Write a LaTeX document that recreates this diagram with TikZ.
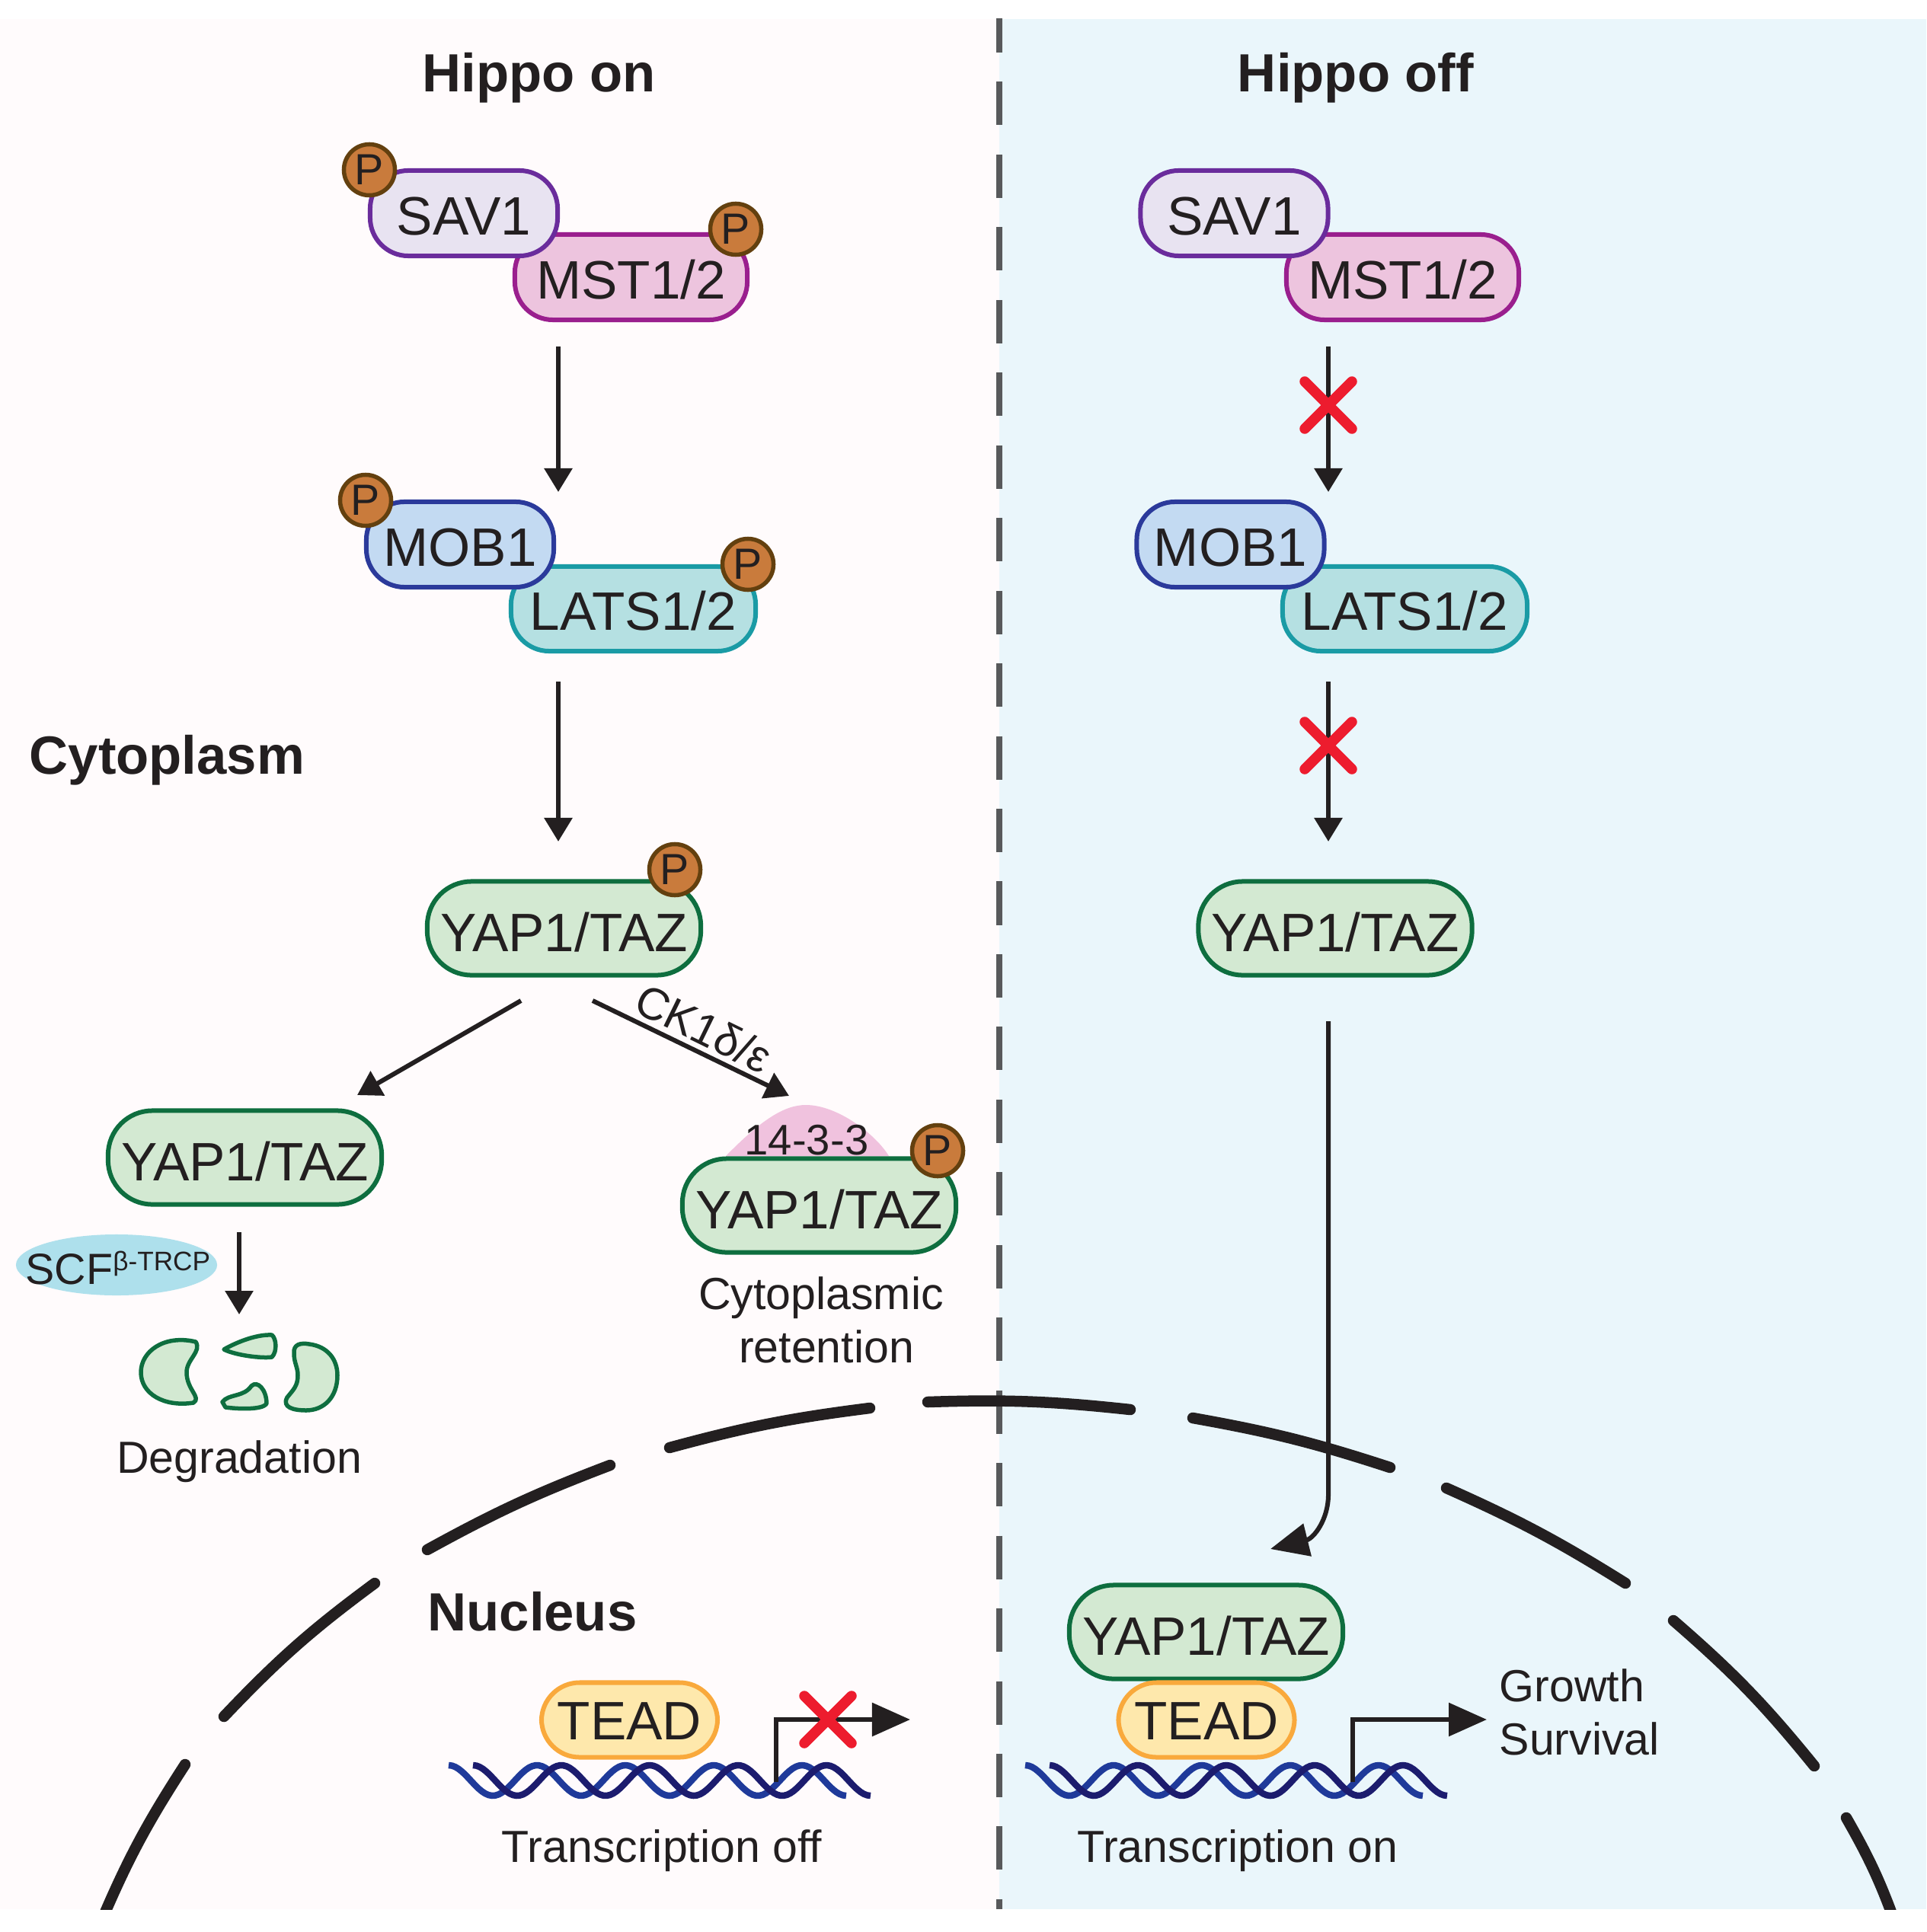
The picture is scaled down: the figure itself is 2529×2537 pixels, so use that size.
\documentclass[tikz,border=0pt]{standalone}
\usepackage{fontspec}
\setmainfont{Liberation Sans}
\usetikzlibrary{arrows.meta,calc,shapes.geometric}
\definecolor{txt}{HTML}{231F20}
\definecolor{pinkbg}{HTML}{FFFBFC}
\definecolor{bluebg}{HTML}{EAF6FB}
\definecolor{dashc}{HTML}{58595B}
\definecolor{savf}{HTML}{E8E3F1}\definecolor{savd}{HTML}{6A2C9C}
\definecolor{mstf}{HTML}{EDC4DE}\definecolor{mstd}{HTML}{9A1F8E}
\definecolor{mobf}{HTML}{C3DAF2}\definecolor{mobd}{HTML}{2B3A9B}
\definecolor{latf}{HTML}{B5E0E2}\definecolor{latd}{HTML}{1A9BA5}
\definecolor{yapf}{HTML}{D3E9D2}\definecolor{yapd}{HTML}{0E6E3F}
\definecolor{teaf}{HTML}{FEE8AC}\definecolor{tead}{HTML}{F9A93C}
\definecolor{pf}{HTML}{C97B3C}\definecolor{pd}{HTML}{63400F}
\definecolor{scff}{HTML}{AEE0EC}
\definecolor{bump}{HTML}{F0C2DE}
\definecolor{redx}{HTML}{ED1C2E}
\definecolor{dna1}{HTML}{1F3A9A}
\definecolor{dna2}{HTML}{1C1C6E}
\tikzset{
 pbox/.style={draw,line width=.06cm,rounded corners=.5cm,inner sep=0pt,outer sep=0pt,text=txt,
   font=\fontsize{20.2}{24}\selectfont,text height=16.2pt,text depth=0pt},
 savbox/.style={pbox,fill=savf,draw=savd,minimum width=2.46cm,minimum height=1.12cm},
 mstbox/.style={pbox,fill=mstf,draw=mstd,minimum width=3.05cm,minimum height=1.12cm},
 mobbox/.style={pbox,fill=mobf,draw=mobd,minimum width=2.46cm,minimum height=1.12cm},
 latbox/.style={pbox,fill=latf,draw=latd,minimum width=3.21cm,minimum height=1.11cm},
 yapbox/.style={pbox,fill=yapf,draw=yapd,minimum width=3.59cm,minimum height=1.23cm,rounded corners=.58cm,text height=17.5pt},
 teabox/.style={pbox,fill=teaf,draw=tead,minimum width=2.31cm,minimum height=.98cm,text height=15pt},
 pcirc/.style={circle,draw=pd,fill=pf,line width=.055cm,minimum size=.67cm,inner sep=0pt,text=txt,
   font=\fontsize{16.3}{18}\selectfont},
 lab/.style={anchor=base,inner sep=0pt,text=txt,font=\fontsize{16.8}{20}\selectfont},
 head/.style={anchor=base,inner sep=0pt,text=txt,font=\bfseries\fontsize{20.1}{24}\selectfont},
 arr/.style={line width=.06cm,draw=txt,-{Triangle[length=.31cm,width=.36cm]}},
 tss/.style={line width=.06cm,draw=txt,-{Triangle[length=.50cm,width=.43cm]}},
 xmark/.style={line width=.135cm,draw=redx,line cap=round},
 env/.style={line width=.145cm,draw=txt,line cap=round},
 frag/.style={fill=yapf,draw=yapd,line width=.055cm,line join=round},
 s1/.style={line width=.085cm,draw=dna1},
 s2/.style={line width=.085cm,draw=dna2},
}
\begin{document}
\begin{tikzpicture}[x=0.01cm,y=-0.01cm]
\useasboundingbox (0,0) rectangle (2529,2537);
% panels
\fill[pinkbg] (0,25) rectangle (1312,2507);
\fill[bluebg] (1312,25) rectangle (2529,2507);
\begin{scope}
\clip (0,25) rectangle (2529,2507);
\coordinate (d0) at (1312,12);
\coordinate (d1) at (1312,2507);
\draw[dashc,line width=.075cm,dash pattern=on .57cm off .384cm] (d0) -- (d1);
% nuclear envelope
\coordinate (e1a) at (130,2530);\coordinate (e1b) at (243,2317);
\coordinate (e2a) at (294,2254);\coordinate (e2b) at (492,2079);
\coordinate (e3a) at (561,2035);\coordinate (e3b) at (801,1924);
\coordinate (e4a) at (879,1901);\coordinate (e4b) at (1142,1849);
\coordinate (e5a) at (1218,1841);\coordinate (e5b) at (1484,1851);
\coordinate (e6a) at (1566,1862);\coordinate (e6b) at (1825,1927);
\coordinate (e7a) at (1899,1954);\coordinate (e7b) at (2134,2079);
\coordinate (e8a) at (2197,2128);\coordinate (e8b) at (2382,2319);
\coordinate (e9a) at (2424,2387);\coordinate (e9b) at (2490,2530);
\draw[env] (e1a) to[bend left=5] (e1b);
\draw[env] (e2a) to[bend left=5] (e2b);
\draw[env] (e3a) to[bend left=4] (e3b);
\draw[env] (e4a) to[bend left=4] (e4b);
\draw[env] (e5a) to[bend left=4] (e5b);
\draw[env] (e6a) to[bend left=4] (e6b);
\draw[env] (e7a) to[bend left=4] (e7b);
\draw[env] (e8a) to[bend left=5] (e8b);
\draw[env] (e9a) to[bend left=5] (e9b);
\end{scope}
% headers
\node[head] (hon) at (708,121) {Hippo on};
\node[head] (hoff) at (1780,121) {Hippo off};
\node[head,anchor=base west] (cyto) at (38,1016) {Cytoplasm};
\node[head] (nuc) at (699,2141) {Nucleus};
% left column
\node[mstbox] (mst) at (828.5,364) {MST1/2};
\node[savbox] (sav) at (609,280) {SAV1};
\node[pcirc] (p1) at (485,223) {P};
\node[pcirc] (p2) at (966,301) {P};
\node[latbox] (lat) at (831.5,799.5) {LATS1/2};
\node[mobbox] (mob) at (604,715) {MOB1};
\node[pcirc] (p3) at (480,657) {P};
\node[pcirc] (p4) at (982,741) {P};
\node[yapbox] (yap) at (740.5,1219) {YAP1/TAZ};
\node[pcirc] (p5) at (886,1142) {P};
\node[yapbox] (yapl) at (321.5,1520) {YAP1/TAZ};
\fill[bump] (953,1518) .. controls (1000,1470) and (1030,1451) .. (1058,1451)
   .. controls (1100,1451) and (1150,1490) .. (1167,1518) -- cycle;
\node[lab,font=\fontsize{16}{20}\selectfont] (b143) at (1059,1516) {14-3-3};
\node[yapbox] (yapr) at (1075.5,1583) {YAP1/TAZ};
\node[pcirc] (p6) at (1231,1511) {P};
% arrows left
\coordinate (a1s) at (733,455);\coordinate (a1e) at (733,646);
\coordinate (a2s) at (733,895);\coordinate (a2e) at (733,1105);
\coordinate (a3s) at (684,1314);\coordinate (a3e) at (469,1438);
\coordinate (a4s) at (778,1314);\coordinate (a4e) at (1036,1439);
\coordinate (a5s) at (314,1618);\coordinate (a5e) at (314,1726);
\draw[arr] (a1s) -- (a1e);
\draw[arr] (a2s) -- (a2e);
\draw[arr] (a3s) -- (a3e);
\draw[arr] (a4s) -- (a4e);
\draw[arr] (a5s) -- (a5e);
\node[lab,anchor=center,rotate=-26] (ck) at (924,1350) {CK1δ/ε};
% SCF
\node[ellipse,fill=scff,minimum width=2.64cm,minimum height=.80cm,inner sep=0pt] (scf) at (153,1661) {};
\node[anchor=base west,inner sep=0pt,text=txt,font=\fontsize{16.3}{20}\selectfont] (scft) at (33,1686)
   {SCF\raisebox{5pt}{\fontsize{10}{10}\selectfont β-TRCP}};
% fragments
\draw[frag] (257,1762) .. controls (215,1752) and (185,1775) .. (185,1802)
  .. controls (185,1830) and (215,1848) .. (254,1842)
  .. controls (265,1835) and (245,1825) .. (245,1802)
  .. controls (245,1785) and (265,1775) .. cycle;
\draw[frag] (386,1777) .. controls (385,1765) and (395,1763) .. (406,1765)
  .. controls (430,1768) and (443,1785) .. (443,1806)
  .. controls (443,1835) and (425,1852) .. (402,1852)
  .. controls (385,1852) and (370,1848) .. (377,1835)
  .. controls (385,1825) and (391,1820) .. (391,1806)
  .. controls (391,1795) and (386,1790) .. cycle;
\draw[frag] (294,1772) .. controls (315,1760) and (340,1752) .. (357,1753)
  .. controls (363,1758) and (364,1775) .. (357,1782)
  .. controls (345,1784) and (310,1780) .. cycle;
\draw[frag] (292,1841) .. controls (300,1830) and (320,1835) .. (330,1820)
  .. controls (338,1812) and (350,1825) .. (350,1843)
  .. controls (345,1852) and (310,1850) .. (296,1848) -- cycle;
\node[lab] (deg) at (314,1934) {Degradation};
\node[lab] (cr1) at (1078,1719) {Cytoplasmic};
\node[lab] (cr2) at (1085,1789) {retention};
% left nucleus
\draw[s1] plot[domain=0:4.5,samples=120] ({589+116*\x},{2338-20*cos(360*\x)});
\draw[s2] plot[domain=0:4.5,samples=120] ({621+116*\x},{2338-20*cos(360*\x)});
\node[teabox] (teal) at (826.5,2258.5) {TEAD};
\coordinate (t1s) at (1019,2340);\coordinate (t1c) at (1019,2258);\coordinate (t1e) at (1195,2258);
\draw[tss] (t1s) -- (t1c) -- (t1e);
\coordinate (x3) at (1087,2258);
\draw[xmark] ($(x3)+(-31,-31)$) -- ($(x3)+(31,31)$);
\draw[xmark] ($(x3)+(-31,31)$) -- ($(x3)+(31,-31)$);
\node[lab] (toff) at (869,2445) {Transcription off};
% right column
\node[mstbox] (mst2) at (1841.5,364) {MST1/2};
\node[savbox] (sav2) at (1620.5,280) {SAV1};
\node[latbox] (lat2) at (1844.5,799.5) {LATS1/2};
\node[mobbox] (mob2) at (1615.5,715) {MOB1};
\node[yapbox] (yap2) at (1753,1219) {YAP1/TAZ};
\coordinate (b1s) at (1744,455);\coordinate (b1e) at (1744,646);
\coordinate (b2s) at (1744,895);\coordinate (b2e) at (1744,1105);
\coordinate (b3s) at (1744,1341);\coordinate (b3m) at (1744,1963);\coordinate (b3e) at (1668,2034);
\draw[tss] (b3s) -- (b3m) .. controls (1744,1995) and (1725,2020) .. (b3e);
\draw[arr] (b1s) -- (b1e);
\draw[arr] (b2s) -- (b2e);
\coordinate (x1) at (1744,532);\coordinate (x2) at (1744,979);
\draw[xmark] ($(x1)+(-31,-31)$) -- ($(x1)+(31,31)$);
\draw[xmark] ($(x1)+(-31,31)$) -- ($(x1)+(31,-31)$);
\draw[xmark] ($(x2)+(-31,-31)$) -- ($(x2)+(31,31)$);
\draw[xmark] ($(x2)+(-31,31)$) -- ($(x2)+(31,-31)$);
% right nucleus
\draw[s1] plot[domain=0:4.5,samples=120] ({1346+116*\x},{2338-20*cos(360*\x)});
\draw[s2] plot[domain=0:4.5,samples=120] ({1378+116*\x},{2338-20*cos(360*\x)});
\node[yapbox] (yapn) at (1583.5,2143) {YAP1/TAZ};
\node[teabox] (tear) at (1584,2258.5) {TEAD};
\coordinate (t2s) at (1776,2340);\coordinate (t2c) at (1776,2258);\coordinate (t2e) at (1952,2258);
\draw[tss] (t2s) -- (t2c) -- (t2e);
\node[lab] (ton) at (1625,2445) {Transcription on};
\node[lab,anchor=base west] (gr) at (1968,2234) {Growth};
\node[lab,anchor=base west] (su) at (1968,2304) {Survival};
\end{tikzpicture}
\end{document}
